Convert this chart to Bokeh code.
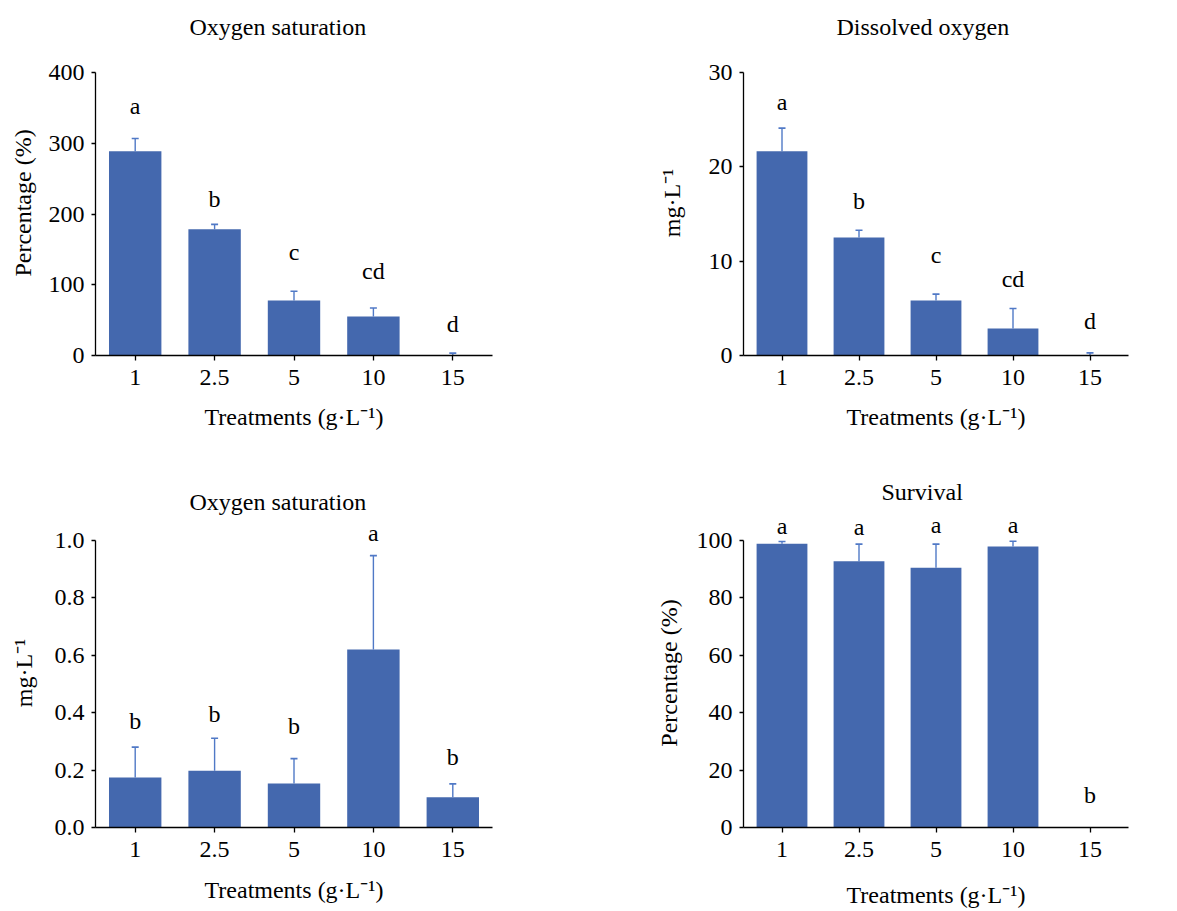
from bokeh.plotting import figure
from bokeh.models import (ColumnDataSource, FactorRange, Range1d, FixedTicker,
                          NumeralTickFormatter, Whisker, TeeHead, LabelSet)
from bokeh.layouts import column, row
from bokeh.embed import file_html
from bokeh.resources import INLINE

# ---------------- data ----------------
categories = ["1", "2.5", "5", "10", "15"]
x_title = "Treatments (g·L\u207b\u00b9)"

sat_pct = [288.7, 178.3, 77.8, 55.2, 0.5]
sat_pct_err = [18.0, 7.0, 13.0, 12.0, 2.8]
sat_pct_groups = ["a", "b", "c", "cd", "d"]
sat_pct_label_y = [342, 210, 135, 108.5, 33]
sat_pct_ticks = [0, 100, 200, 300, 400]

do_mg = [21.65, 12.52, 5.84, 2.87, 0.05]
do_mg_err = [2.45, 0.75, 0.67, 2.12, 0.23]
do_mg_groups = ["a", "b", "c", "cd", "d"]
do_mg_label_y = [26.0, 15.56, 9.83, 7.25, 2.83]
do_mg_ticks = [0, 10, 20, 30]

sat_mg = [0.174, 0.198, 0.153, 0.62, 0.105]
sat_mg_err = [0.106, 0.113, 0.087, 0.327, 0.047]
sat_mg_groups = ["b", "b", "b", "a", "b"]
sat_mg_label_y = [0.343, 0.366, 0.326, 0.998, 0.217]
sat_mg_ticks = [0, 0.2, 0.4, 0.6, 0.8, 1.0]

survival = [98.8, 92.7, 90.5, 97.9, 0.0]
survival_err = [0.8, 6.0, 8.2, 1.8, 0.0]
survival_groups = ["a", "a", "a", "a", "b"]
survival_label_y = [102.1, 101.7, 102.5, 102.5, 8.4]
survival_ticks = [0, 20, 40, 60, 80, 100]

# ---------------- style ----------------
FONT = "Liberation Serif"
FS = "24px"
BAR = "#4468AE"
ERR = "#5079C6"
HALF_TITLE = 12.5


def panel(title, vals, errs, groups, label_y, ticks, ylabel, fmt,
          width, height, mb_left, mb_right,
          fig_top, top_tick_px, zero_px, frame_top_px, title_center_px,
          title_left, ylab_standoff, xlab_standoff):
    y_end = ticks[-1] * (zero_px - frame_top_px) / (zero_px - top_tick_px)
    p = figure(width=width, height=height, output_backend="svg",
               toolbar_location=None,
               x_range=FactorRange(*categories, range_padding=0),
               y_range=Range1d(ticks[0], y_end),
               min_border_left=mb_left, min_border_right=mb_right,
               min_border_top=frame_top_px - fig_top,
               min_border_bottom=fig_top + height - zero_px)
    p.outline_line_color = None
    p.xgrid.visible = False
    p.ygrid.visible = False
    p.background_fill_color = "white"
    p.border_fill_color = "white"

    p.title.text = title
    p.title.align = "left"
    p.title.offset = title_left
    p.title.standoff = 2 * ((frame_top_px - title_center_px) - HALF_TITLE)
    p.title.text_font = FONT
    p.title.text_font_size = FS
    p.title.text_font_style = "normal"
    p.title.text_color = "black"

    src = ColumnDataSource(dict(x=categories, top=vals))
    p.vbar(x="x", top="top", width=0.66, source=src,
           fill_color=BAR, line_color=None)

    wx, wl, wu = [], [], []
    for c, v, e in zip(categories, vals, errs):
        if e > 0:
            wx.append(c)
            wl.append(v)
            wu.append(v + e)
    wsrc = ColumnDataSource(dict(x=wx, lower=wl, upper=wu))
    p.add_layout(Whisker(base="x", lower="lower", upper="upper", source=wsrc,
                         dimension="height", line_color=ERR, line_width=1.4,
                         upper_head=TeeHead(size=7, line_color=ERR, line_width=1.6),
                         lower_head=None))

    lsrc = ColumnDataSource(dict(x=categories, y=label_y, t=groups))
    p.add_layout(LabelSet(x="x", y="y", text="t", source=lsrc,
                          text_align="center", text_baseline="alphabetic",
                          text_font=FONT, text_font_size=FS, text_color="black"))

    for ax in (p.xaxis[0], p.yaxis[0]):
        ax.axis_line_color = "black"
        ax.axis_line_width = 1.3
        ax.major_tick_line_color = "black"
        ax.major_tick_line_width = 1.3
        ax.major_tick_in = 0
        ax.minor_tick_line_color = None
        ax.major_label_text_font = FONT
        ax.major_label_text_font_size = FS
        ax.major_label_text_color = "black"
        ax.axis_label_text_font = FONT
        ax.axis_label_text_font_size = FS
        ax.axis_label_text_font_style = "normal"
        ax.axis_label_text_color = "black"

    p.xaxis[0].major_tick_out = 5
    p.xaxis[0].major_label_standoff = 9
    p.xaxis[0].axis_label = x_title
    p.xaxis[0].axis_label_standoff = xlab_standoff

    p.yaxis[0].major_tick_out = 4
    p.yaxis[0].major_label_standoff = 7
    p.yaxis[0].bounds = (ticks[0], ticks[-1])
    p.yaxis[0].ticker = FixedTicker(ticks=ticks, minor_ticks=[])
    p.yaxis[0].formatter = NumeralTickFormatter(format=fmt)
    p.yaxis[0].axis_label = ylabel
    p.yaxis[0].axis_label_standoff = ylab_standoff
    return p


tl = panel("Oxygen saturation", sat_pct, sat_pct_err, sat_pct_groups, sat_pct_label_y,
           sat_pct_ticks, "Percentage (%)", "0",
           560, 460, 95, 68, 0, 72, 355, 50, 27, 94, 10, 16)
tr = panel("Dissolved oxygen", do_mg, do_mg_err, do_mg_groups, do_mg_label_y,
           do_mg_ticks, "mg·L\u207b\u00b9", "0",
           616, 460, 183, 48, 0, 72, 355, 50, 27, 93, 21, 16)
bl = panel("Oxygen saturation", sat_mg, sat_mg_err, sat_mg_groups, sat_mg_label_y,
           sat_mg_ticks, "mg·L\u207b\u00b9", "0.0",
           560, 450, 95, 68, 460, 540, 829, 518, 502, 94, 15, 17)
br = panel("Survival", survival, survival_err, survival_groups, survival_label_y,
           survival_ticks, "Percentage (%)", "0",
           616, 450, 183, 48, 460, 540, 829, 518, 492, 138, 12, 22)

layout = column(row(tl, tr), row(bl, br))
open("out.html", "w").write(file_html(layout, INLINE))
